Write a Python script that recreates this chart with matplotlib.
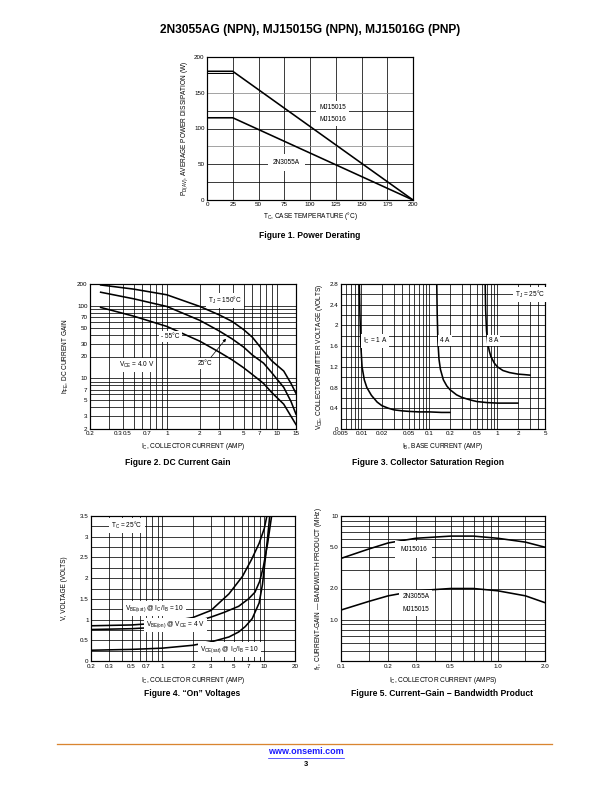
import matplotlib
matplotlib.use('Agg')
import matplotlib.pyplot as plt
from matplotlib import font_manager
from matplotlib.lines import Line2D
from matplotlib.ticker import NullLocator

def pick(names):
    for n in names:
        try:
            font_manager.findfont(n, fallback_to_default=False)
            return n
        except Exception:
            pass
    return 'DejaVu Sans'

NARROW = pick(['Liberation Sans Narrow', 'Liberation Sans'])
SANS = pick(['Liberation Sans', 'DejaVu Sans'])
plt.rcParams['font.family'] = [NARROW, 'DejaVu Sans']
plt.rcParams['mathtext.fontset'] = 'custom'
plt.rcParams['mathtext.rm'] = NARROW
plt.rcParams['mathtext.it'] = NARROW
plt.rcParams['mathtext.default'] = 'regular'

# ---------------- data ----------------
# Figure 1: power derating
tc_mj = [0, 25, 200]
pd_mj = [180, 180, 0]
tc_mj_b = [0, 25]
pd_mj_b = [177, 177]
tc_2n = [0, 25, 200]
pd_2n = [115, 115, 0]

# Figure 2: DC current gain
ic_150 = [0.25, 0.5, 1, 2, 3, 3.93, 5, 6, 7.6, 9, 11.6, 13.5, 15]
hfe_150 = [194, 170, 142, 98, 75, 61, 47, 37, 23.7, 17.5, 12.6, 8.5, 6.2]
ic_25 = [0.25, 0.5, 1, 2, 3, 3.93, 5, 6, 7.6, 9, 11.6, 13.5, 15]
hfe_25 = [154, 125, 98, 63, 45, 35, 27, 21, 16.2, 12, 7.5, 4.8, 3.2]
ic_m55 = [0.25, 0.5, 1, 2, 3, 3.93, 5, 6, 7.6, 9, 11.6, 13.5, 15]
hfe_m55 = [95, 72, 52, 32.5, 23, 18, 14, 11.3, 8.5, 6.4, 4.4, 3.0, 2.3]

# Figure 3: collector saturation region
ib_1a = [0.0093, 0.0095, 0.0098, 0.0102, 0.011, 0.012, 0.014, 0.017, 0.02, 0.025,
         0.03, 0.04, 0.05, 0.07, 0.1, 0.15, 0.2]
vce_1a = [2.8, 2.2, 1.6, 1.2, 0.95, 0.8, 0.65, 0.52, 0.45, 0.4, 0.37, 0.35, 0.34,
          0.33, 0.33, 0.32, 0.32]
ib_4a = [0.128, 0.13, 0.133, 0.138, 0.145, 0.16, 0.18, 0.2, 0.25, 0.3, 0.4, 0.5,
         0.7, 1, 1.5, 2]
vce_4a = [2.8, 2.2, 1.7, 1.35, 1.15, 0.95, 0.83, 0.76, 0.66, 0.61, 0.56, 0.53,
          0.51, 0.5, 0.5, 0.5]
ib_8a = [0.66, 0.67, 0.69, 0.72, 0.76, 0.8, 0.9, 1, 1.2, 1.5, 2, 2.5, 3]
vce_8a = [2.8, 2.3, 1.9, 1.65, 1.5, 1.4, 1.27, 1.2, 1.13, 1.09, 1.06, 1.05, 1.04]

# Figure 4: "On" voltages
ic_besat = [0.2, 0.5, 1, 2, 3, 4.5, 6.1, 7.5, 8.9, 10, 10.6]
v_besat = [0.85, 0.87, 0.92, 1.05, 1.22, 1.62, 2.04, 2.45, 2.84, 3.2, 3.5]
ic_beon = [0.2, 0.5, 1, 2, 3, 4, 5.6, 7, 8.1, 9, 9.8, 10.8, 11.8]
v_beon = [0.76, 0.78, 0.82, 0.93, 1.06, 1.17, 1.32, 1.5, 1.66, 1.92, 2.28, 2.85, 3.5]
ic_cesat = [0.2, 0.5, 1, 2, 3.1, 4.5, 5.6, 6.5, 7.6, 8.9, 9.6, 10.2, 10.8, 11.3]
v_cesat = [0.26, 0.28, 0.31, 0.38, 0.47, 0.58, 0.7, 0.83, 1.02, 1.4, 1.85, 2.44, 3.0, 3.5]

# Figure 5: current-gain bandwidth product
ic_ft = [0.1, 0.15, 0.2, 0.3, 0.5, 0.7, 1.0, 1.5, 2.0]
ft_mj15016 = [3.9, 4.8, 5.5, 6.1, 6.4, 6.4, 6.1, 5.6, 5.0]
ft_2n3055a = [1.24, 1.5, 1.7, 1.9, 2.0, 2.0, 1.9, 1.7, 1.46]

# tick labels
f1_xticks = [0, 25, 50, 75, 100, 125, 150, 175, 200]
f1_yticks = [0, 50, 100, 150, 200]
f2_xtick_labels = ['0.2', '0.3', '0.5', '0.7', '1', '2', '3', '5', '7', '10', '15']
f2_ytick_labels = ['2', '3', '5', '7', '10', '20', '30', '50', '70', '100', '200']
f3_xtick_labels = ['0.005', '0.01', '0.02', '0.05', '0.1', '0.2', '0.5', '1', '2', '5']
f3_ytick_labels = ['0', '0.4', '0.8', '1.2', '1.6', '2', '2.4', '2.8']
f4_xtick_labels = ['0.2', '0.3', '0.5', '0.7', '1', '2', '3', '5', '7', '10', '20']
f4_ytick_labels = ['0', '0.5', '1', '1.5', '2', '2.5', '3', '3.5']
f5_xtick_labels = ['0.1', '0.2', '0.3', '0.5', '1.0', '2.0']
f5_ytick_labels = ['1.0', '2.0', '5.0', '10']

# ---------------- layout ----------------
W, H = 612, 792
fig = plt.figure(figsize=(W / 72, H / 72), dpi=72)
fig.patch.set_facecolor('white')

def add_ax(x0, y0, x1, y1):
    return fig.add_axes([x0 / W, 1 - y1 / H, (x1 - x0) / W, (y1 - y0) / H])

TICK_FS = 6.3
LAB_FS = 6.5
CAP_FS = 8.5
GRID_LW = 0.75
CURVE_LW = 1.6

def style(ax):
    for s in ax.spines.values():
        s.set_linewidth(1.2)
    ax.tick_params(length=0, labelsize=TICK_FS, pad=2.5)
    ax.xaxis.set_minor_locator(NullLocator())
    ax.yaxis.set_minor_locator(NullLocator())

def vgrid(ax, xs, color='black'):
    for x in xs:
        ax.axvline(x, color=color, lw=GRID_LW, zorder=1)

def hgrid(ax, ys, color='black'):
    for y in ys:
        ax.axhline(y, color=color, lw=GRID_LW, zorder=1)

BOX = dict(facecolor='white', edgecolor='none', pad=2.0)

def label(ax, x, y, s, **kw):
    ax.text(x, y, s, fontsize=LAB_FS, ha='center', va='center', bbox=BOX, zorder=4, **kw)

def logs(lo_dec, hi_dec):
    out = []
    for d in range(lo_dec, hi_dec + 1):
        for m in range(1, 10):
            out.append(m * 10.0 ** d)
    return out

def caption(x, y, s):
    fig.text(x / W, 1 - y / H, s, family=SANS, weight='bold', fontsize=CAP_FS,
             ha='center', va='center')

# ---------------- Figure 1 ----------------
ax1 = add_ax(207, 57, 413, 200)
style(ax1)
ax1.set_xlim(0, 200)
ax1.set_ylim(0, 200)
vgrid(ax1, f1_xticks)
hgrid(ax1, [25, 50, 100, 125])
hgrid(ax1, [75, 150], color='#888888')
ax1.plot(tc_mj, pd_mj, color='black', lw=CURVE_LW, zorder=3)
ax1.plot(tc_mj_b, pd_mj_b, color='black', lw=1.0, zorder=3)
ax1.plot(tc_2n, pd_2n, color='black', lw=CURVE_LW, zorder=3)
ax1.set_xticks(f1_xticks)
ax1.set_xticklabels([str(v) for v in f1_xticks])
ax1.set_yticks(f1_yticks)
ax1.set_yticklabels([str(v) for v in f1_yticks])
ax1.text(122, 121, 'MJ15015\n\nMJ15016', fontsize=LAB_FS, ha='center', va='center',
         linespacing=0.85, bbox=dict(facecolor='white', edgecolor='none', pad=3), zorder=4)
ax1.text(77, 53, '2N3055A', fontsize=LAB_FS, ha='center', va='center',
         bbox=dict(facecolor='white', edgecolor='none', pad=5), zorder=4)
ax1.set_xlabel('T$_C$, CASE TEMPERATURE (°C)', fontsize=LAB_FS, labelpad=3)
ax1.set_ylabel('P$_{D(AV)}$, AVERAGE POWER DISSIPATION (W)', fontsize=LAB_FS, labelpad=4)
caption(310, 236, 'Figure 1. Power Derating')

# ---------------- Figure 2 ----------------
ax2 = add_ax(90, 284, 296, 429)
style(ax2)
ax2.set_xscale('log')
ax2.set_yscale('log')
ax2.set_xlim(0.2, 15)
ax2.set_ylim(2, 200)
ax2.xaxis.set_minor_locator(NullLocator())
ax2.yaxis.set_minor_locator(NullLocator())
vgrid(ax2, [v for v in logs(-1, 1) if 0.2 < v < 15])
hgrid(ax2, [v for v in logs(0, 2) if 2 < v < 200])
ax2.plot(ic_150, hfe_150, color='black', lw=CURVE_LW, zorder=3)
ax2.plot(ic_25, hfe_25, color='black', lw=CURVE_LW, zorder=3)
ax2.plot(ic_m55, hfe_m55, color='black', lw=CURVE_LW, zorder=3)
ax2.set_xticks([0.2, 0.36, 0.44, 0.66, 1, 2, 3, 5, 7, 10, 15])
ax2.set_xticklabels(f2_xtick_labels)
ax2.set_yticks([float(v) for v in f2_ytick_labels])
ax2.set_yticklabels(f2_ytick_labels)
label(ax2, 3.4, 117, 'T$_J$ = 150°C')
label(ax2, 1.08, 38, '- 55°C')
label(ax2, 2.25, 15.9, '25°C')
label(ax2, 0.53, 15.2, 'V$_{CE}$ = 4.0 V')
ax2.annotate('', xy=(3.55, 37), xytext=(2.45, 18.5),
             arrowprops=dict(arrowstyle='-|>', color='black', lw=0.7, mutation_scale=6),
             zorder=5)
ax2.set_xlabel('I$_C$, COLLECTOR CURRENT (AMP)', fontsize=LAB_FS, labelpad=5)
ax2.set_ylabel('h$_{FE}$, DC CURRENT GAIN', fontsize=LAB_FS, labelpad=6)
caption(178, 463, 'Figure 2. DC Current Gain')

# ---------------- Figure 3 ----------------
ax3 = add_ax(341, 284, 545, 429)
style(ax3)
ax3.set_xscale('log')
ax3.set_xlim(0.005, 5)
ax3.set_ylim(0, 2.8)
ax3.xaxis.set_minor_locator(NullLocator())
vgrid(ax3, [v for v in logs(-3, 0) if 0.005 < v < 5])
hgrid(ax3, [0.2 * i for i in range(1, 14)])
ax3.plot(ib_1a, vce_1a, color='black', lw=CURVE_LW, zorder=3)
ax3.plot(ib_4a, vce_4a, color='black', lw=CURVE_LW, zorder=3)
ax3.plot(ib_8a, vce_8a, color='black', lw=CURVE_LW, zorder=3)
ax3.set_xticks([float(v) for v in f3_xtick_labels])
ax3.set_xticklabels(f3_xtick_labels)
ax3.set_yticks([float(v) for v in f3_ytick_labels])
ax3.set_yticklabels(f3_ytick_labels)
for xx, s in [(0.0105, 'I$_C$ = 1 A'), (0.145, '4 A'), (0.74, '8 A')]:
    ax3.text(xx, 1.7, s, fontsize=LAB_FS, ha='left', va='center',
             bbox=dict(facecolor='white', edgecolor='none', pad=2.0), zorder=4)
label(ax3, 3.0, 2.6, 'T$_J$ = 25°C')
ax3.set_xlabel('I$_B$, BASE CURRENT (AMP)', fontsize=LAB_FS, labelpad=5)
ax3.set_ylabel('V$_{CE}$, COLLECTOR-EMITTER VOLTAGE (VOLTS)', fontsize=LAB_FS, labelpad=5)
caption(428, 462, 'Figure 3. Collector Saturation Region')

# ---------------- Figure 4 ----------------
ax4 = add_ax(91, 516, 295, 661)
style(ax4)
ax4.set_xscale('log')
ax4.set_xlim(0.2, 20)
ax4.set_ylim(0, 3.5)
ax4.xaxis.set_minor_locator(NullLocator())
vgrid(ax4, [v for v in logs(-1, 1) if 0.2 < v < 20])
hgrid(ax4, [0.25 * i for i in range(1, 14)])
ax4.plot(ic_besat, v_besat, color='black', lw=CURVE_LW, zorder=3)
ax4.plot(ic_beon, v_beon, color='black', lw=CURVE_LW, zorder=3)
ax4.plot(ic_cesat, v_cesat, color='black', lw=CURVE_LW, zorder=3)
ax4.set_xticks([float(v) for v in f4_xtick_labels])
ax4.set_xticklabels(f4_xtick_labels)
ax4.set_yticks([float(v) for v in f4_ytick_labels])
ax4.set_yticklabels(f4_ytick_labels)
label(ax4, 0.45, 3.27, 'T$_C$ = 25°C')
label(ax4, 0.84, 1.27, 'V$_{BE(sat)}$ @ I$_C$/I$_B$ = 10')
label(ax4, 1.36, 0.87, 'V$_{BE(on)}$ @ V$_{CE}$ = 4 V')
label(ax4, 4.6, 0.27, 'V$_{CE(sat)}$ @ I$_C$/I$_B$ = 10')
ax4.set_xlabel('I$_C$, COLLECTOR CURRENT (AMP)', fontsize=LAB_FS, labelpad=7)
ax4.set_ylabel('V, VOLTAGE (VOLTS)', fontsize=LAB_FS, labelpad=12)
caption(192, 694, 'Figure 4. \u201cOn\u201d Voltages')

# ---------------- Figure 5 ----------------
ax5 = add_ax(341, 516, 545, 661)
style(ax5)
ax5.set_xscale('log')
ax5.set_yscale('log')
ax5.set_xlim(0.1, 2.0)
ax5.set_ylim(0.4, 10)
ax5.xaxis.set_minor_locator(NullLocator())
ax5.yaxis.set_minor_locator(NullLocator())
vgrid(ax5, [0.15, 0.2, 0.3, 0.4, 0.5, 0.6, 0.7, 0.8, 0.9, 1.0, 1.5])
hgrid(ax5, [v for v in logs(-1, 0) if 0.4 < v < 10])
ax5.plot(ic_ft, ft_mj15016, color='black', lw=CURVE_LW, zorder=3)
ax5.plot(ic_ft, ft_2n3055a, color='black', lw=CURVE_LW, zorder=3)
ax5.set_xticks([float(v) for v in f5_xtick_labels])
ax5.set_xticklabels(f5_xtick_labels)
ax5.set_yticks([float(v) for v in f5_ytick_labels])
ax5.set_yticklabels(f5_ytick_labels)
ax5.text(0.29, 4.75, 'MJ15016', fontsize=LAB_FS, ha='center', va='center',
         bbox=dict(facecolor='white', edgecolor='none', pad=5), zorder=4)
ax5.text(0.30, 1.45, '2N3055A\n\nMJ15015', fontsize=LAB_FS, ha='center', va='center',
         linespacing=0.85, bbox=dict(facecolor='white', edgecolor='none', pad=3), zorder=4)
ax5.set_xlabel('I$_C$, COLLECTOR CURRENT (AMPS)', fontsize=LAB_FS, labelpad=7)
ax5.set_ylabel('f$_T$, CURRENT-GAIN \u2014 BANDWIDTH PRODUCT (MHz)', fontsize=LAB_FS,
               labelpad=6)
caption(442, 694, 'Figure 5. Current\u2212Gain \u2212 Bandwidth Product')

# ---------------- page furniture ----------------
fig.text(310 / W, 1 - 30 / H, '2N3055AG (NPN), MJ15015G (NPN), MJ15016G (PNP)',
         family=SANS, weight='bold', fontsize=12, ha='center', va='center')
fig.add_artist(Line2D([57 / W, 552 / W], [1 - 744 / H, 1 - 744 / H],
                      color='#D98530', lw=1.3, transform=fig.transFigure))
fig.text(306 / W, 1 - 752 / H, 'www.onsemi.com', family=SANS, weight='bold',
         fontsize=9, color='#1a1aff', ha='center', va='center')
fig.add_artist(Line2D([268 / W, 344 / W], [1 - 757.5 / H, 1 - 757.5 / H],
                      color='#1a1aff', lw=0.7, transform=fig.transFigure))
fig.text(306 / W, 1 - 764 / H, '3', family=SANS, weight='bold', fontsize=7.5,
         ha='center', va='center')

fig.savefig('out.png', dpi=72, facecolor='white')
